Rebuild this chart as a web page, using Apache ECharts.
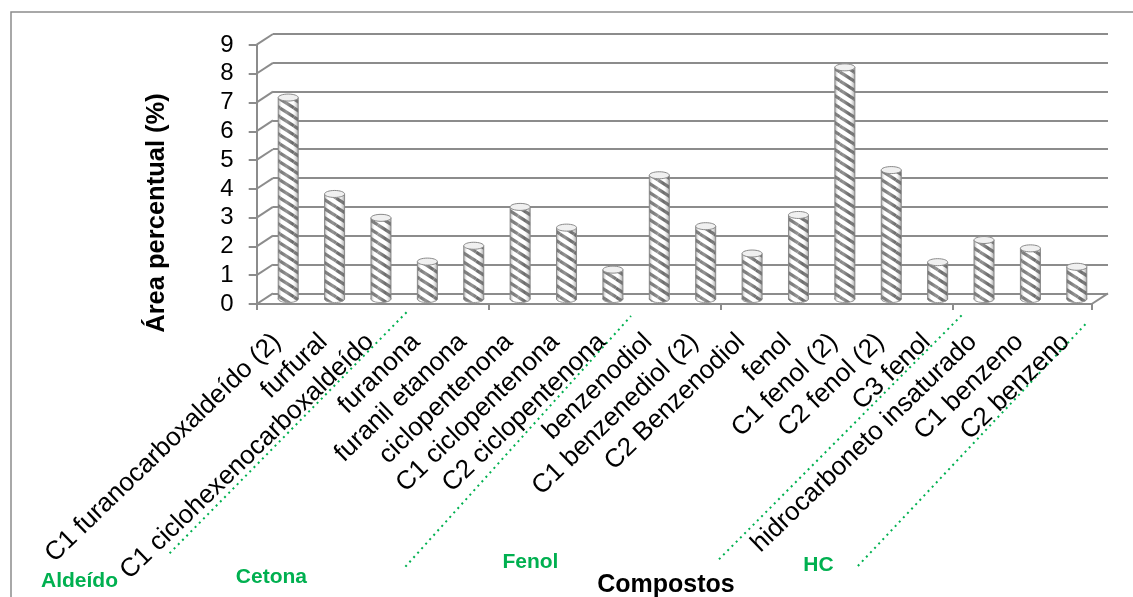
<!DOCTYPE html>
<html>
<head>
<meta charset="utf-8">
<script src="https://cdn.jsdelivr.net/npm/echarts@6/dist/echarts.min.js"></script>
<style>html,body{margin:0;padding:0;background:#fff;}#chart{width:1133px;height:597px;}</style>
</head>
<body>
<div id="chart"></div>
<script>
const categories = [
  'C1 furanocarboxaldeído (2)', 'furfural', 'C1 ciclohexenocarboxaldeído',
  'furanona', 'furanil etanona', 'ciclopentenona', 'C1 ciclopentenona',
  'C2 ciclopentenona', 'benzenodiol', 'C1 benzenediol (2)', 'C2 Benzenodiol',
  'fenol', 'C1 fenol (2)', 'C2 fenol (2)', 'C3 fenol',
  'hidrocarboneto insaturado', 'C1 benzeno', 'C2 benzeno'
];
const values = [7.0, 3.65, 2.82, 1.3, 1.85, 3.2, 2.48, 1.02, 4.3, 2.53, 1.58, 2.92, 8.05, 4.48, 1.28, 2.05, 1.76, 1.12];
const yTicks = [0, 1, 2, 3, 4, 5, 6, 7, 8, 9];
const groupLabels = ['Aldeído', 'Cetona', 'Fenol', 'HC'];
const yTitle = 'Área percentual (%)';
const xTitle = 'Compostos';

const FONT = '"Liberation Sans", Arial, sans-serif';
const GREEN = '#00b050';
const GRID_GREY = '#8c8c8c';
const DX = 16.3, DY = 10.7; // depth offset front -> back

function makePattern() {
  const tw = 14, th = 9;
  const c = document.createElement('canvas');
  c.width = tw; c.height = th;
  const ctx = c.getContext('2d');
  ctx.fillStyle = '#ffffff';
  ctx.fillRect(0, 0, tw, th);
  ctx.strokeStyle = '#5a5a5a';
  ctx.lineWidth = 3.2;
  for (let ox = -1; ox <= 1; ox++) {
    for (let oy = -1; oy <= 1; oy++) {
      ctx.beginPath();
      ctx.moveTo(ox * tw, oy * th);
      ctx.lineTo(ox * tw + tw, oy * th + th);
      ctx.stroke();
    }
  }
  return c;
}
const pattern = { image: makePattern(), repeat: 'repeat' };
const shade = {
  type: 'linear', x: 0, y: 0, x2: 1, y2: 0,
  colorStops: [
    { offset: 0, color: 'rgba(110,110,110,0.6)' },
    { offset: 0.18, color: 'rgba(255,255,255,0.2)' },
    { offset: 0.42, color: 'rgba(255,255,255,0.35)' },
    { offset: 0.72, color: 'rgba(255,255,255,0.1)' },
    { offset: 1, color: 'rgba(100,100,100,0.6)' }
  ]
};

const chart = echarts.init(document.getElementById('chart'), null, { renderer: 'canvas' });

const option = {
  backgroundColor: '#ffffff',
  animation: false,
  grid: [
    { left: 273, right: 25, top: 34, bottom: 303.7 },   // back wall
    { left: 265, right: 33, top: 40, bottom: 298 },     // bars (mid depth)
    { left: 256.7, right: 41.3, top: 45, bottom: 293 }, // front axes
    { left: 253.9, right: 44.1, top: 45, bottom: 293 }  // category labels
  ],
  xAxis: [
    { gridIndex: 0, type: 'category', data: categories, show: false },
    { gridIndex: 1, type: 'category', data: categories, show: false },
    {
      gridIndex: 2, type: 'category', data: categories,
      axisLine: { show: true, lineStyle: { color: GRID_GREY, width: 2 } },
      axisTick: { show: true, length: 6, lineStyle: { color: GRID_GREY, width: 2 } },
      axisLabel: { show: false },
      splitLine: { show: false }
    },
    {
      gridIndex: 3, type: 'category', data: categories,
      axisLine: { show: false }, axisTick: { show: false },
      axisLabel: {
        rotate: 44, interval: 0, margin: 34,
        color: '#000', fontSize: 26, fontFamily: FONT
      },
      splitLine: { show: false }
    }
  ],
  yAxis: [
    {
      gridIndex: 0, type: 'value', min: 0, max: 9, interval: 1,
      axisLine: { show: false }, axisTick: { show: false }, axisLabel: { show: false },
      splitLine: { show: true, lineStyle: { color: GRID_GREY, width: 2 } }
    },
    { gridIndex: 1, type: 'value', min: 0, max: 9, interval: 1, show: false, splitLine: { show: false } },
    {
      gridIndex: 2, type: 'value', min: 0, max: 9, interval: 1,
      axisLine: { show: true, lineStyle: { color: GRID_GREY, width: 2 } },
      axisTick: { show: true, length: 8, lineStyle: { color: GRID_GREY, width: 2 } },
      axisLabel: { margin: 23, color: '#000', fontSize: 24, fontFamily: FONT },
      splitLine: { show: false }
    },
    { gridIndex: 3, type: 'value', min: 0, max: 9, interval: 1, show: false, splitLine: { show: false } }
  ],
  series: [
    {
      type: 'custom', xAxisIndex: 0, yAxisIndex: 0, silent: true, z: 1,
      data: yTicks.map(v => [0, v]),
      renderItem: function (params, api) {
        const cs = params.coordSys;
        const v = api.value(1);
        const yb = api.coord([0, v])[1];
        const children = [{
          type: 'line',
          shape: { x1: cs.x - DX, y1: yb + DY, x2: cs.x, y2: yb },
          style: { stroke: GRID_GREY, lineWidth: 2 }
        }];
        if (v === 0) {
          children.push({
            type: 'line',
            shape: { x1: cs.x + cs.width - DX, y1: yb + DY, x2: cs.x + cs.width, y2: yb },
            style: { stroke: GRID_GREY, lineWidth: 2 }
          });
        }
        return { type: 'group', children: children };
      }
    },
    {
      type: 'custom', xAxisIndex: 1, yAxisIndex: 1, silent: true, z: 5,
      data: values.map((v, i) => [i, v]),
      encode: { x: 0, y: 1 },
      renderItem: function (params, api) {
        const i = api.value(0), v = api.value(1);
        const top = api.coord([i, v]);
        const base = api.coord([i, 0]);
        const w = 20, rx = w / 2, ry = 3.5;
        const cx = top[0], x0 = cx - rx;
        const h = base[1] - top[1];
        return {
          type: 'group',
          children: [
            { type: 'ellipse', shape: { cx: cx, cy: base[1], rx: rx, ry: ry }, style: { fill: pattern, stroke: '#8a8a8a', lineWidth: 1 } },
            { type: 'ellipse', shape: { cx: cx, cy: base[1], rx: rx, ry: ry }, style: { fill: shade } },
            { type: 'rect', shape: { x: x0, y: top[1], width: w, height: h }, style: { fill: pattern } },
            { type: 'rect', shape: { x: x0, y: top[1], width: w, height: h }, style: { fill: shade } },
            { type: 'line', shape: { x1: x0, y1: top[1], x2: x0, y2: base[1] }, style: { stroke: '#8a8a8a', lineWidth: 1 } },
            { type: 'line', shape: { x1: x0 + w, y1: top[1], x2: x0 + w, y2: base[1] }, style: { stroke: '#8a8a8a', lineWidth: 1 } },
            { type: 'ellipse', shape: { cx: cx, cy: top[1], rx: rx, ry: ry }, style: { fill: '#f0f0f0', stroke: '#8a8a8a', lineWidth: 1 } }
          ]
        };
      }
    }
  ],
  graphic: [
    { type: 'rect', shape: { x: 11, y: 12, width: 1400, height: 900 }, style: { fill: 'none', stroke: GRID_GREY, lineWidth: 1.5 }, silent: true, z: 0 },
    { type: 'text', x: 157, y: 213, rotation: Math.PI / 2, style: { text: yTitle, font: 'bold 25.5px ' + FONT, fill: '#000', textAlign: 'center', textVerticalAlign: 'middle' } },
    { type: 'text', x: 666, y: 585, style: { text: xTitle, font: 'bold 25px ' + FONT, fill: '#000', textAlign: 'center', textVerticalAlign: 'middle' } },
    { type: 'text', x: 79.5, y: 581.5, style: { text: groupLabels[0], font: 'bold 21px ' + FONT, fill: GREEN, textAlign: 'center', textVerticalAlign: 'middle' } },
    { type: 'text', x: 271.4, y: 577, style: { text: groupLabels[1], font: 'bold 21px ' + FONT, fill: GREEN, textAlign: 'center', textVerticalAlign: 'middle' } },
    { type: 'text', x: 530.4, y: 562, style: { text: groupLabels[2], font: 'bold 21px ' + FONT, fill: GREEN, textAlign: 'center', textVerticalAlign: 'middle' } },
    { type: 'text', x: 818.5, y: 565, style: { text: groupLabels[3], font: 'bold 21px ' + FONT, fill: GREEN, textAlign: 'center', textVerticalAlign: 'middle' } },
    { type: 'line', shape: { x1: 169.6, y1: 553.3, x2: 407.1, y2: 311.7 }, style: { stroke: GREEN, lineWidth: 2, lineDash: [2, 4] } },
    { type: 'line', shape: { x1: 405.4, y1: 566.7, x2: 631, y2: 316 }, style: { stroke: GREEN, lineWidth: 2, lineDash: [2, 4] } },
    { type: 'line', shape: { x1: 719, y1: 559.3, x2: 962, y2: 315 }, style: { stroke: GREEN, lineWidth: 2, lineDash: [2, 4] } },
    { type: 'line', shape: { x1: 857.9, y1: 566, x2: 1086.3, y2: 323.3 }, style: { stroke: GREEN, lineWidth: 2, lineDash: [2, 4] } }
  ]
};
chart.setOption(option);
</script>
</body>
</html>
